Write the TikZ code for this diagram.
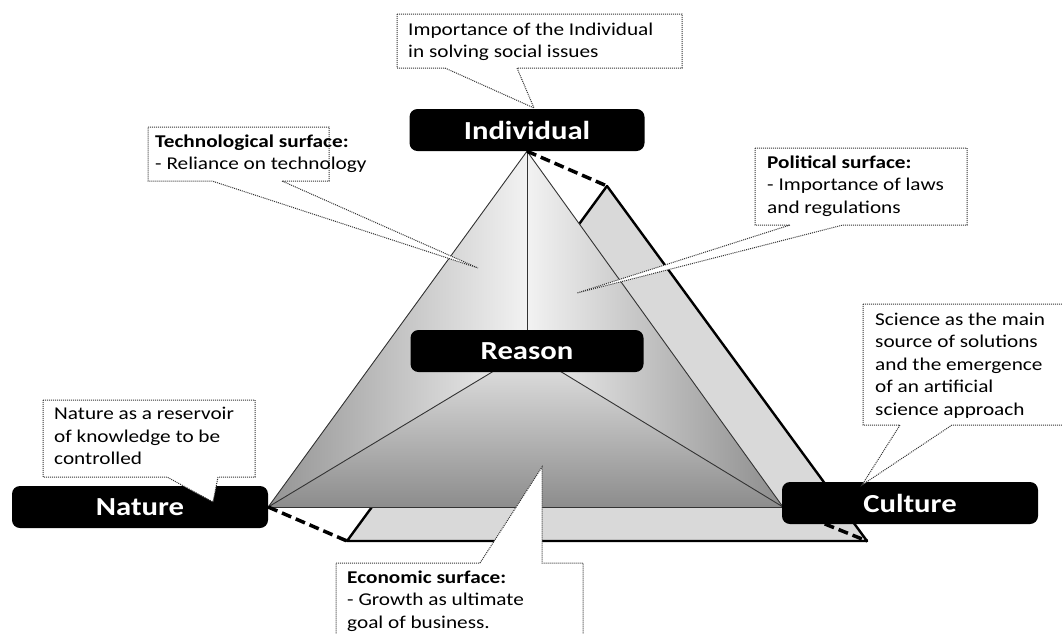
\documentclass[tikz,border=0pt]{standalone}
\usepackage{fontspec}
\setmainfont{Carlito}[FakeStretch=1.18]
\pgfdeclarelayer{background}
\pgfdeclarelayer{foreground}
\pgfsetlayers{background,main,foreground}
\tikzstyle{label box}=[rounded corners=8pt, fill=black, text=white
,font=\fontsize{26}{28}\selectfont\bfseries
,minimum height=42pt
,inner sep=0pt
]
\tikzstyle{note}=[draw=black!80, dash pattern=on 1pt off 1pt, fill=white, line width=1pt]
\tikzstyle{note text}=[anchor=north west, align=left, inner sep=0pt, font=\fontsize{18}{22.5}\selectfont]
\tikzstyle{back edge}=[draw, line width=2.4pt, line join=round]
\tikzstyle{front edge}=[draw=black!80, line width=0.9pt]
\tikzstyle{hidden edge}=[draw, line width=3.5pt, dash pattern=on 10pt off 5pt]

\begin{document}
\begin{tikzpicture}[x=1pt,y=-1pt]
    \useasboundingbox (0,0) rectangle (1062,633);
    % First we draw the four corners
    \foreach \pos/\name/\w/\txt in {{(527,130)/individual/235/Individual}, {(527,351)/reason/233/Reason}, {(140,507)/nature/256/Nature}, {(910,503)/culture/256/Culture}}
        \node[label box, minimum width=\w pt] (\name) at \pos {\txt};

    \coordinate (I) at (individual.south);
    \coordinate (R) at (reason.center);
    \coordinate (N) at (nature.east);
    \coordinate (C) at (783,507);
    % back surface, shifted
    \coordinate (I2) at (607,186);
    \coordinate (N2) at (347,541);
    \coordinate (C2) at (867,541);

    \begin{pgfonlayer}{background}
        \path[back edge, fill=black!15] (I2) -- (N2) -- (C2) -- cycle;
        % the three faces
        \shade[left color=black!42, right color=black!5] (I) -- (N) -- (R) -- cycle;
        \shade[left color=black!5, right color=black!45] (I) -- (R) -- (C) -- cycle;
        \shade[top color=black!10, bottom color=black!45] (N) -- (R) -- (C) -- cycle;
        % Connect vertices with edges
        \foreach \source/\dest in {I/N, N/C, C/I, I/R, R/N, R/C}
            \path[front edge] (\source) -- (\dest);
        \foreach \source/\dest in {I/I2, N/N2, C/C2}
            \path[hidden edge] (\source) -- (\dest);
    \end{pgfonlayer}

    % Then the notes
    \begin{pgfonlayer}{foreground}
        \path[note] (397,14) -- (682,14) -- (682,68) -- (517,68) -- (534,108) -- (445,68) -- (397,68) -- cycle;
        \node[note text] (indnote) at (408,22.4) {Importance of the Individual\\in solving social issues};

        \path[note] (148,127) -- (329,127) -- (329,181) -- (282,181) -- (478,268) -- (212,181) -- (148,181) -- cycle;
        \node[note text] (technote) at (155,134.4) {\textbf{Technological surface:}\\- Reliance on technology};

        \path[note] (755,148) -- (967,148) -- (967,225) -- (843,225) -- (577,293) -- (790,225) -- (755,225) -- cycle;
        \node[note text] (polnote) at (767,155.4) {\textbf{Political surface:}\\- Importance of laws\\and regulations};

        \path[note] (863,304) -- (1070,304) -- (1070,425) -- (952,425) -- (862,485) -- (900,425) -- (863,425) -- cycle;
        \node[note text] (scinote) at (875,312.4) {Science as the main\\source of solutions\\and the emergence\\of an artificial\\science approach};

        \path[note] (43,400) -- (255,400) -- (255,477) -- (218,477) -- (213,502) -- (167,477) -- (43,477) -- cycle;
        \node[note text] (natnote) at (54,407.4) {Nature as a reservoir\\of knowledge to be\\controlled};

        \path[note] (336,563) -- (480,563) -- (542,467) -- (542,563) -- (583,563) -- (583,650) -- (336,650) -- cycle;
        \node[note text] (econote) at (347,570.4) {\textbf{Economic surface:}\\- Growth as ultimate\\goal of business.};
    \end{pgfonlayer}
\end{tikzpicture}
\end{document}
